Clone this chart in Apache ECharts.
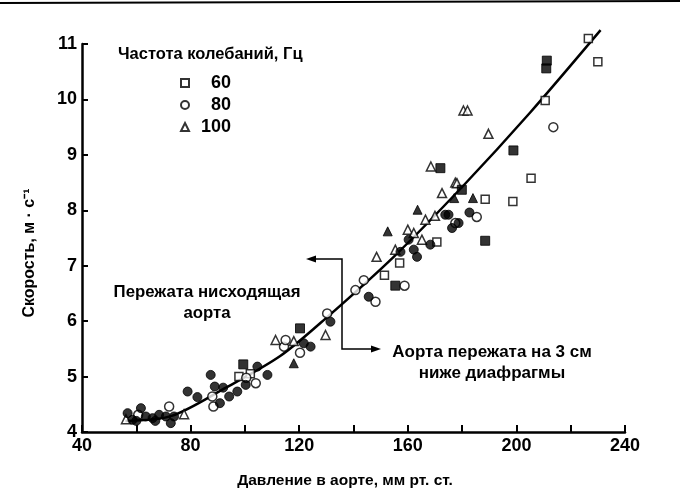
<!DOCTYPE html>
<html>
<head>
<meta charset="utf-8">
<script src="https://cdn.jsdelivr.net/npm/echarts@6/dist/echarts.min.js"></script>
<style>html,body{margin:0;padding:0;background:#fff;}#c{width:680px;height:501px;}</style>
</head>
<body>
<div id="c"></div>
<script>
// ---- data ----
var xTickLabels = [40, 80, 120, 160, 200, 240];
var yTickLabels = [4, 5, 6, 7, 8, 9, 10, 11];
var legendNames = ['60', '80', '100'];

var open60 = [[97.8,5.0],[102,5.05],[151.4,6.83],[157,7.05],[170.7,7.43],[188.5,8.2],[198.7,8.16],[205.4,8.58],[210.6,9.98],[226.5,11.1],[230,10.68]];
var filled60 = [[99.4,5.22],[120.3,5.87],[155.4,6.64],[172,8.76],[179.9,8.37],[188.5,7.45],[198.9,9.08],[211,10.56],[211.2,10.7]];
var open80 = [[60.7,4.31],[72.1,4.46],[88,4.64],[88.4,4.46],[100.5,4.98],[104,4.88],[114.4,5.54],[115,5.66],[120.3,5.43],[130.3,6.14],[140.7,6.56],[143.8,6.74],[148.1,6.35],[158.8,6.64],[177.5,7.77],[185.4,7.88],[213.6,9.5]];
var filled80 = [[56.8,4.34],[58.6,4.22],[60,4.2],[61.7,4.43],[63.5,4.28],[66,4.25],[67,4.2],[68.4,4.31],[70.9,4.28],[72.7,4.16],[73.9,4.28],[78.9,4.73],[82.5,4.63],[87.4,5.03],[88.9,4.82],[90.8,4.52],[92,4.8],[94.2,4.64],[97.2,4.73],[100.3,4.85],[104.6,5.18],[108.3,5.03],[121.7,5.6],[124.2,5.54],[131.5,5.99],[145.6,6.44],[157.3,7.25],[160.3,7.47],[162.2,7.29],[163.4,7.16],[168.3,7.38],[173.8,7.92],[175,7.92],[176.3,7.68],[178.7,7.77],[182.7,7.96]];
var open100 = [[56.2,4.23],[77.6,4.32],[111.3,5.66],[118,5.64],[129.7,5.75],[148.5,7.16],[155.4,7.29],[160,7.65],[162.2,7.59],[165.2,7.47],[166.5,7.83],[170,7.9],[172.6,8.31],[177.5,8.5],[178.1,8.49],[168.5,8.79],[180.5,9.8],[182,9.8],[189.7,9.38]];
var filled100 = [[118,5.24],[152.6,7.62],[163.6,8.01],[177.1,8.22],[184,8.22]];
var fitCurve = [[56,4.2],[73,4.29],[93,4.8],[113,5.37],[130,6.06],[155,7.17],[180,8.42],[205,9.76],[231,11.25]];

var FONT = '"Liberation Sans", Arial, sans-serif';
var chart = echarts.init(document.getElementById('c'), null, {renderer: 'canvas'});

function openStyle() { return {color: '#fff', borderColor: '#000', borderWidth: 1.5}; }
function fillStyle() { return {color: '#000', borderColor: '#000', borderWidth: 1}; }

function arrowHead(x, y, dir) {
  return {type: 'polygon', shape: {points: [[x, y], [x - dir * 10, y - 3.5], [x - dir * 10, y + 3.5]]}, style: {fill: '#000'}, z: 10};
}

chart.setOption({
  backgroundColor: '#fff',
  animation: false,
  title: {
    text: 'Частота колебаний, Гц',
    left: 118, top: 46, padding: 0,
    textStyle: {fontFamily: FONT, fontSize: 16.5, fontWeight: 'bold', color: '#000'}
  },
  legend: {
    data: legendNames,
    orient: 'vertical',
    left: 180, top: 74, padding: 0,
    itemWidth: 8, itemHeight: 8, itemGap: 4,
    selectedMode: false,
    formatter: function (n) { return '{a|' + n + '}'; },
    textStyle: {
      fontFamily: FONT, fontSize: 18, fontWeight: 'bold', color: '#000',
      rich: {a: {width: 37, align: 'right', fontFamily: FONT, fontSize: 18, fontWeight: 'bold', lineHeight: 17}}
    }
  },
  grid: {left: 82, right: 55, top: 44, bottom: 69},
  xAxis: {
    type: 'value', min: 40, max: 240, interval: 20,
    axisLine: {lineStyle: {color: '#000', width: 2.5}},
    axisTick: {inside: true, length: 7, lineStyle: {color: '#000', width: 2}},
    splitLine: {show: false},
    axisLabel: {
      margin: 5, color: '#000', fontFamily: FONT, fontSize: 18, fontWeight: 'bold',
      formatter: function (v) { return xTickLabels.indexOf(v) >= 0 ? String(v) : ''; }
    }
  },
  yAxis: {
    type: 'value', min: 4, max: 11, interval: 1,
    axisLine: {lineStyle: {color: '#000', width: 2.5}},
    axisTick: {inside: true, length: 6, lineStyle: {color: '#000', width: 2}},
    splitLine: {show: false},
    axisLabel: {
      margin: 5, color: '#000', fontFamily: FONT, fontSize: 18, fontWeight: 'bold',
      formatter: function (v) { return yTickLabels.indexOf(v) >= 0 ? String(v) : ''; }
    }
  },
  series: [
    {name: 'fit', type: 'line', data: fitCurve, smooth: 0.3, clip: false, symbol: 'none', lineStyle: {color: '#000', width: 2.5}, z: 1},
    {name: '60', type: 'scatter', clip: false, symbol: 'rect', symbolSize: 8, data: open60, itemStyle: openStyle(), z: 3},
    {name: '80', type: 'scatter', clip: false, symbol: 'circle', symbolSize: 9, data: open80, itemStyle: openStyle(), z: 3},
    {name: '100', type: 'scatter', clip: false, symbol: 'triangle', symbolSize: 9, data: open100, itemStyle: openStyle(), z: 3},
    {name: '60 filled', type: 'scatter', clip: false, symbol: 'rect', symbolSize: 9, data: filled60, itemStyle: fillStyle(), z: 4},
    {name: '80 filled', type: 'scatter', clip: false, symbol: 'circle', symbolSize: 9, data: filled80, itemStyle: fillStyle(), z: 4},
    {name: '100 filled', type: 'scatter', clip: false, symbol: 'triangle', symbolSize: 9, data: filled100, itemStyle: fillStyle(), z: 4}
  ],
  graphic: [
    {type: 'line', shape: {x1: 0, y1: 3, x2: 680, y2: 1}, style: {stroke: '#000', lineWidth: 2}},
    {type: 'text', x: 30, y: 253, rotation: Math.PI / 2,
      style: {text: 'Скорость, м · с⁻¹', font: 'bold 16px ' + FONT, fill: '#000', textAlign: 'center', textVerticalAlign: 'middle'}},
    {type: 'text', x: 345, y: 481,
      style: {text: 'Давление в аорте, мм рт. ст.', font: 'bold 15.5px ' + FONT, fill: '#000', textAlign: 'center', textVerticalAlign: 'middle'}},
    {type: 'text', x: 207, y: 303,
      style: {text: 'Пережата нисходящая\nаорта', font: 'bold 16.8px ' + FONT, lineHeight: 21, fill: '#000', textAlign: 'center', textVerticalAlign: 'middle'}},
    {type: 'text', x: 492, y: 363,
      style: {text: 'Аорта пережата на 3 см\nниже диафрагмы', font: 'bold 17px ' + FONT, lineHeight: 21, fill: '#000', textAlign: 'center', textVerticalAlign: 'middle'}},
    {type: 'polyline', shape: {points: [[310, 259], [342, 259], [342, 349], [372, 349]]}, style: {stroke: '#000', lineWidth: 1.5, fill: null}},
    arrowHead(306, 259, -1),
    arrowHead(381, 349, 1)
  ]
});
</script>
</body>
</html>
